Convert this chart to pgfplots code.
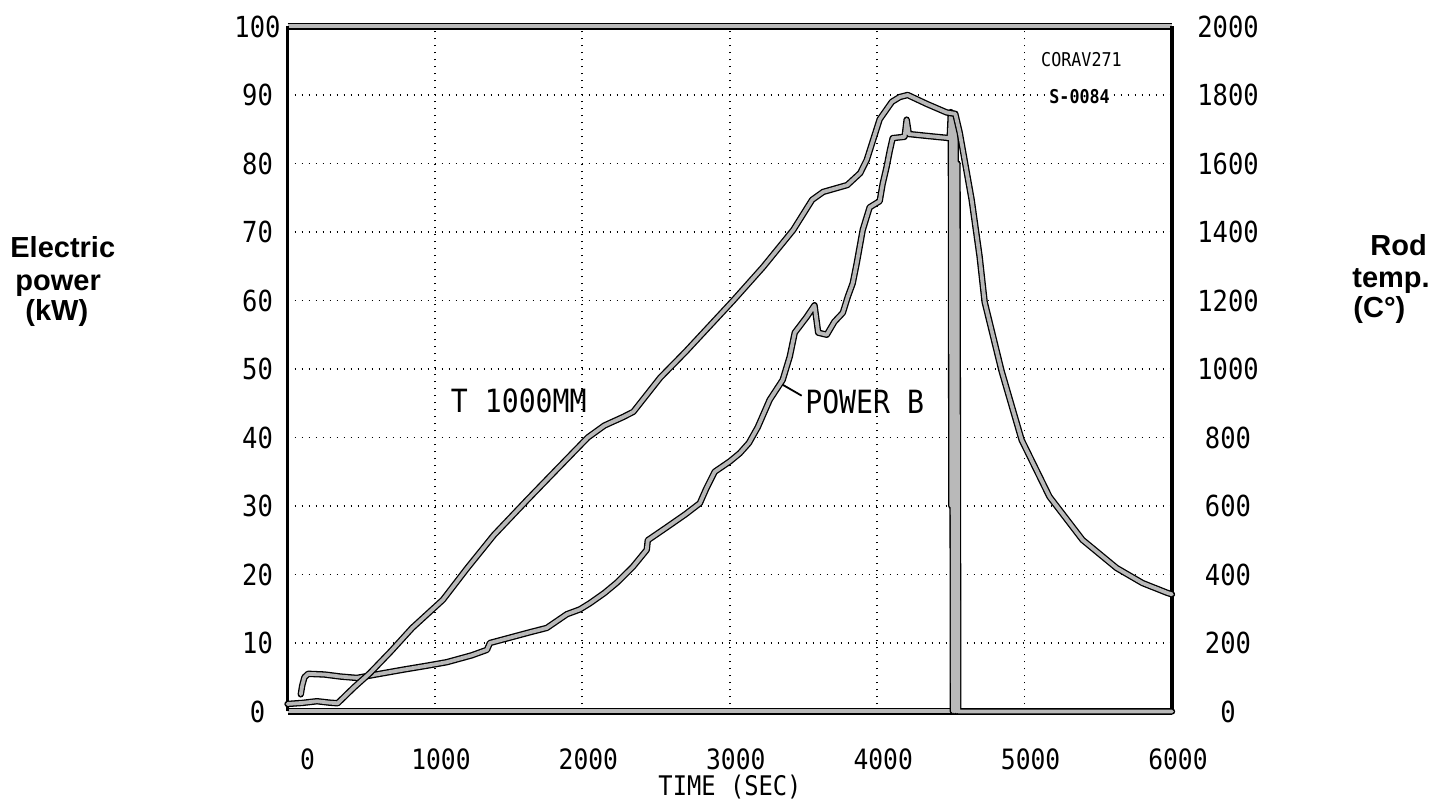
\documentclass[border=0pt]{standalone}
\usepackage{fontspec}
\setmainfont{Liberation Sans}
\newfontfamily\pf[FakeStretch=0.88]{DejaVu Sans Mono}
\usepackage{pgfplots}
\pgfplotsset{compat=1.18}
\tikzset{curve/.style={draw=black, line width=0.65pt, double=gray!55, double distance=1.9pt, line join=round, line cap=round}}
\begin{document}
\begin{tikzpicture}[x=1pt,y=1pt]
\path[use as bounding box] (0,0) rectangle (720.5,400.5);
\begin{axis}[
  at={(143.75pt,44.75pt)}, anchor=south west,
  scale only axis, width=442.25pt, height=342.5pt,
  xmin=0, xmax=6000, ymin=0, ymax=100,
  xtick={0,1000,2000,3000,4000,5000,6000},
  xticklabels={\hspace{14pt}0,1000,2000,3000,4000,5000,6000},
  ytick={0,10,20,30,40,50,60,70,80,90,100},
  yticklabels={0,10,20,30,40,50,60,70,80,90,100},
  grid=major,
  major grid style={black, line width=0.9pt, dash pattern=on 0.9pt off 2.6pt},
  major tick length=0pt,
  separate axis lines,
  x axis line style={draw=black, line width=0.7pt, double=gray!55, double distance=2pt},
  y axis line style={draw=black, line width=1.8pt},
  xticklabel style={font=\pf\fontsize{14}{14}\selectfont, anchor=center, inner sep=0pt, yshift=-24pt, xshift=3pt},
  yticklabel style={font=\pf\fontsize{14.5}{14.5}\selectfont, anchor=center, xshift=-15pt},
  clip=false,
]
\addplot[curve] coordinates {
(90,2.5) (100,3.8) (115,5.0) (140,5.5) (250,5.4) (360,5.1) (470,4.9) (600,5.4) (783,6.1) (950,6.7) (1081,7.2) (1250,8.2) (1353,9.0) (1373,10.0) (1529,10.9) (1650,11.6) (1759,12.2) (1895,14.2) (1983,14.9) (2051,15.8) (2150,17.3) (2234,18.8) (2300,20.2) (2342,21.1) (2437,23.6) (2444,25.0) (2573,26.9) (2700,28.8) (2797,30.4) (2840,32.5) (2898,35.0) (3000,36.5) (3068,37.7) (3130,39.2) (3190,41.5) (3271,45.5) (3359,48.4) (3407,51.8) (3441,55.3) (3522,57.6) (3575,59.3) (3600,55.3) (3658,55.0) (3710,56.9) (3767,58.2) (3800,60.5) (3834,62.5) (3861,65.4) (3902,70.3) (3949,73.6) (4017,74.5) (4037,77.0) (4064,79.5) (4085,81.8) (4105,83.7) (4186,83.9) (4200,86.4) (4215,84.3) (4350,84.0) (4492,83.7) (4500,87.5) (4503,30) (4508,87) (4514,0) (4520,86) (4527,0) (4533,85) (4540,0) (4545,80) (4550,0) (6000,0)
};
\node[font=\pf\fontsize{16}{16}\selectfont] at (axis cs:1569,45.3) {T 1000MM};
\node[font=\pf\fontsize{16}{16}\selectfont] at (axis cs:3915,45.2) {POWER B};
\draw[line width=0.9pt] (axis cs:3359,47.7) -- (axis cs:3488,46.1);
\node[font=\pf\fontsize{9.5}{9.5}\selectfont, fill=white, inner sep=1pt] at (axis cs:5386,95.1) {CORAV271};
\node[font=\pf\bfseries\fontsize{9.5}{9.5}\selectfont, fill=white, inner sep=1pt] at (axis cs:5373,89.8) {S-0084};
\end{axis}
\begin{axis}[
  at={(143.75pt,44.75pt)}, anchor=south west,
  scale only axis, width=442.25pt, height=342.5pt,
  xmin=0, xmax=6000, ymin=0, ymax=2000,
  axis x line=none, axis y line*=right,
  axis line style={draw=none},
  ytick={0,200,400,600,800,1000,1200,1400,1600,1800,2000},
  yticklabels={0,200,400,600,800,1000,1200,1400,1600,1800,2000},
  major tick length=0pt,
  yticklabel style={font=\pf\fontsize{14.5}{14.5}\selectfont, anchor=center, xshift=28pt},
  clip=false,
]
\addplot[curve] coordinates {
(0,22) (100,25) (200,30) (280,26) (340,24) (450,70) (559,112) (700,175) (846,244) (1054,326) (1220,419) (1400,515) (1627,618) (1800,695) (2037,800) (2150,835) (2278,860) (2346,875) (2529,975) (2700,1050) (3024,1200) (3227,1298) (3431,1406) (3559,1494) (3634,1517) (3797,1537) (3885,1572) (3929,1610) (4017,1729) (4100,1780) (4153,1794) (4207,1800) (4336,1774) (4471,1749) (4530,1745) (4560,1690) (4593,1610) (4641,1494) (4695,1328) (4729,1196) (4844,994) (4980,793) (5169,627) (5393,501) (5624,419) (5800,375) (5970,346) (6000,342)
};
\end{axis}
\begin{scope}[every node/.style={font=\bfseries\fontsize{14.5}{14.5}\selectfont, inner sep=0pt, anchor=base west}]
\node at (5,271.5) {Electric};
\node at (7.5,255) {power};
\node at (12.5,240) {(kW)};
\node at (685,272.5) {Rod};
\node at (676,256.5) {temp.};
\node at (676.5,241.5) {(C°)};
\end{scope}
\node[font=\pf\fontsize{13.5}{13.5}\selectfont, inner sep=0pt, anchor=south] at (365,0.8) {TIME (SEC)};
\end{tikzpicture}
\end{document}
